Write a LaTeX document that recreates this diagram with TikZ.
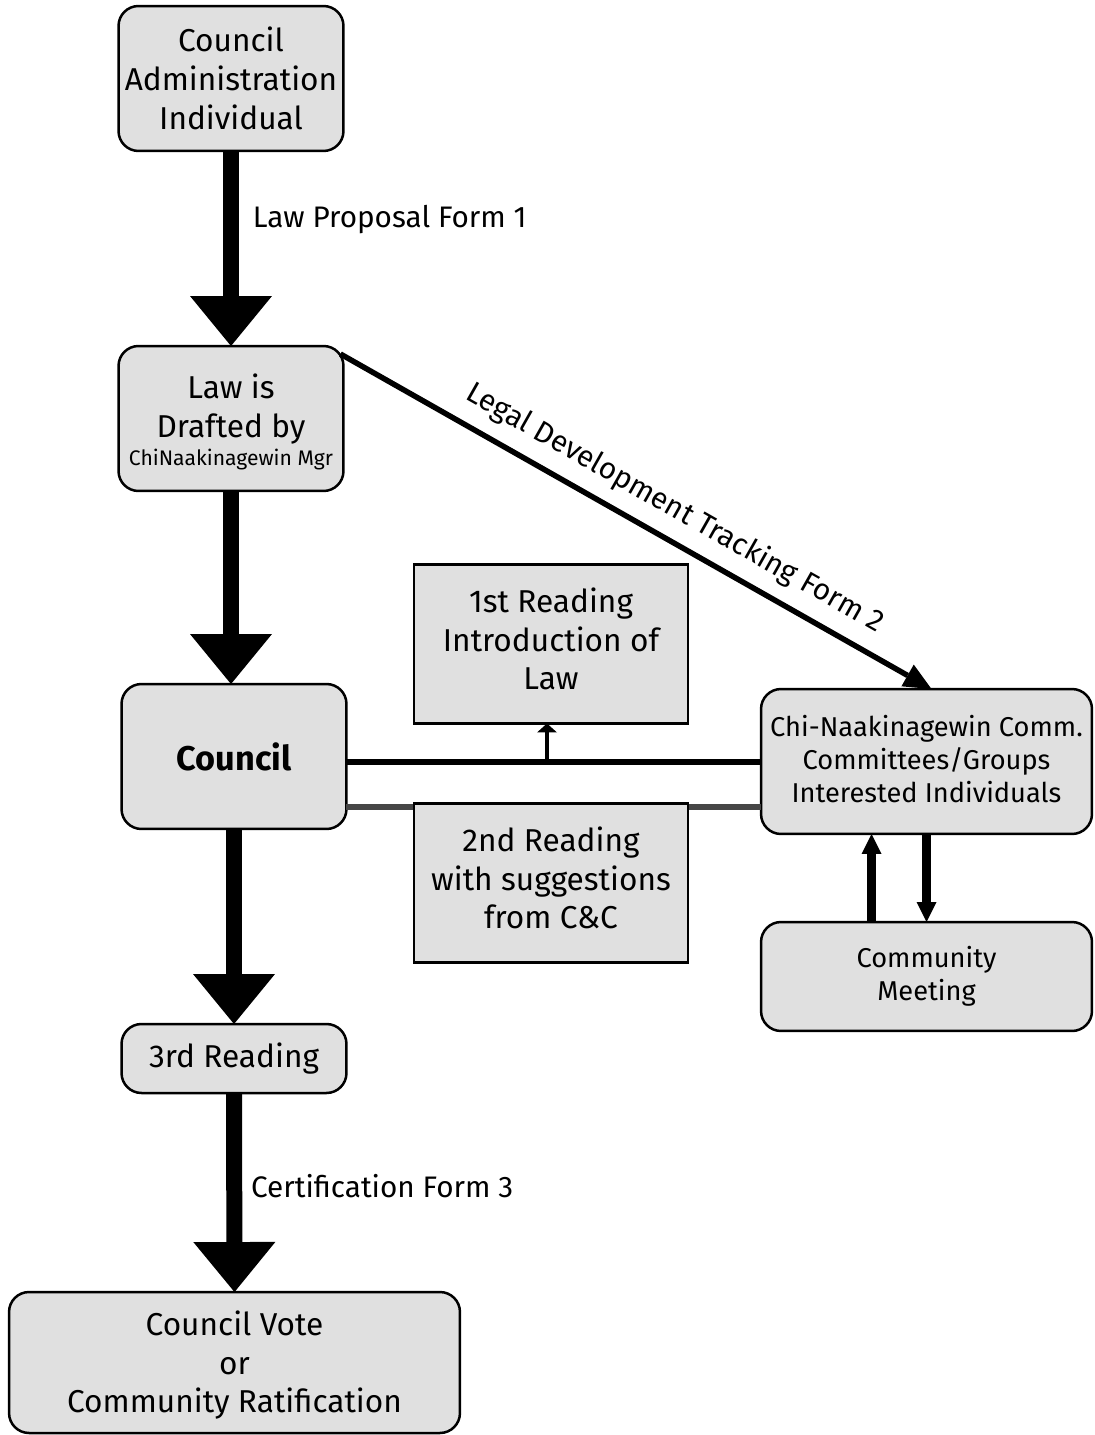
\documentclass[tikz,border=0pt]{standalone}
\usepackage{fontspec}
\setmainfont{Fira Sans}
\usepackage{xcolor}
\usetikzlibrary{arrows.meta,positioning,calc}
\definecolor{boxgray}{RGB}{224,224,224}
\definecolor{midgray}{RGB}{70,70,70}

\begin{document}
\begin{tikzpicture}[
  x=0.02cm, y=-0.02cm,
  stage/.style  ={rectangle, rounded corners=0.4cm, draw, line width=0.05cm, fill=boxgray,
                  align=center, inner sep=0pt, outer sep=0pt, minimum width=4.5cm, minimum height=2.9cm,
                  font=\fontsize{18}{22}\selectfont},
  reading/.style={rectangle, draw, line width=0.045cm, fill=boxgray, align=center, inner sep=0pt,
                  outer sep=0pt, minimum width=5.48cm, minimum height=3.18cm,
                  font=\fontsize{18}{22}\selectfont},
  note/.style={font=\fontsize{16.9}{19}\selectfont},
  flow/.style ={-{Triangle[width=1.64cm, length=1.0cm, line width=0pt]}, line width=0.32cm},
  track/.style={-{Triangle[width=0.5cm, length=0.55cm, line width=0pt]}, line width=0.11cm},
  vert/.style ={-{Triangle[width=0.4cm, length=0.4cm, line width=0pt]}, line width=0.19cm},
  tick/.style ={-{Triangle[width=0.4cm, length=0.18cm, line width=0pt]}, line width=0.09cm},
  bar/.style  ={line width=0.12cm},
]
\useasboundingbox (0,0) rectangle (1094,1435);

% left column
\node[stage] (src)     at (231,78.5)   {Council\\Administration\\Individual};
\node[stage] (draft)   at (231,418.5)
  {\rule{0pt}{18pt}Law is\\Drafted by\\[-6pt]{\fontsize{12}{14}\selectfont ChiNaakinagewin Mgr}};
\node[stage, font=\fontsize{19.5}{22}\selectfont\bfseries] (council) at (234,756.5) {Council};
\node[stage, minimum height=1.38cm] (read3) at (234,1058.5) {3rd Reading};
\node[stage, minimum width=9.02cm, minimum height=2.82cm] (vote) at (234.5,1362.5)
  {\rule{0pt}{17pt}Council Vote\\or\\Community Ratification};

% right column
\node[stage, minimum width=6.62cm, font=\fontsize{15.5}{19}\selectfont] (comm) at (926.5,761.5)
  {Chi-Naakinagewin Comm.\\Committees/Groups\\Interested Individuals\rule[-3pt]{0pt}{3pt}};
\node[stage, minimum width=6.62cm, minimum height=2.18cm, font=\fontsize{15.5}{19}\selectfont] (meet) at (926.5,976.5)
  {Community\\Meeting};

% council <-> committees
\draw[bar, midgray] ($(council.east |- comm.south)+(0,-27)$) -- ($(comm.west |- comm.south)+(0,-27)$);
\draw[bar] (council.east |- comm.west) -- (comm.west);

% readings
\node[reading] (read1) at (551,644) {1st Reading\\Introduction of\\Law\rule[-6pt]{0pt}{6pt}};
\node[reading] (read2) at (551,883) {2nd Reading\\with suggestions\\from C\&C\rule[-6pt]{0pt}{6pt}};
\draw[tick] ([xshift=-0.08cm]read1.south |- comm.west) -- ([xshift=-0.08cm]read1.south);

% main flow
\draw[flow] (src.south) -- node[note, pos=0.35, right=0.16cm] {Law Proposal Form 1} (draft.north);
\draw[flow] (draft.south) -- (draft.south |- council.north);
\draw[flow] (council.south) -- (read3.north);
\draw[flow] (read3.south) -- node[note, pos=0.47, right=0.06cm] {Certification Form 3} (vote.north);

% tracking
\draw[track] ([shift={(-0.06cm,-0.16cm)}]draft.north east) -- node[note, sloped, above=4pt, pos=0.54]
  {Legal Development Tracking Form 2} ([xshift=0.1cm]comm.north);

% community meeting
\draw[vert] ([xshift=-1.1cm]meet.north) -- ([xshift=-1.1cm]comm.south);
\draw[vert] (comm.south) -- (meet.north);
\end{tikzpicture}
\end{document}
